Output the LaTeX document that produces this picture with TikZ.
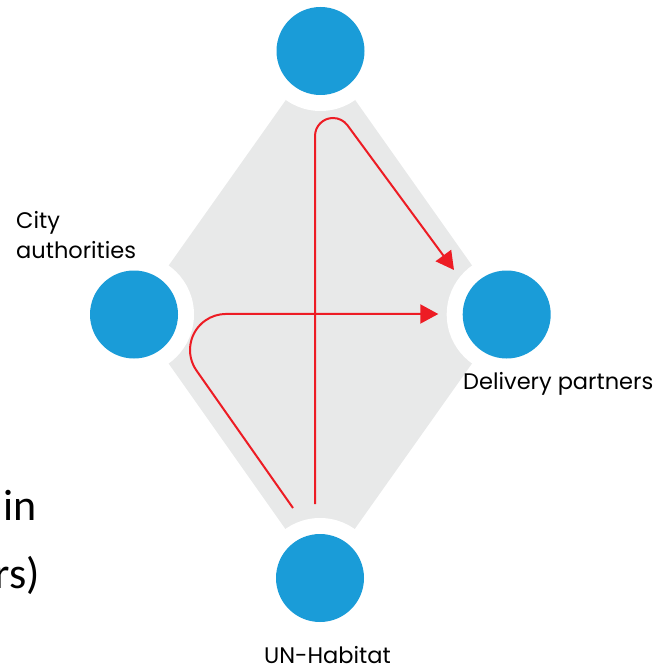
\documentclass[tikz,border=0pt]{standalone}
\usepackage{fontspec}
\setmainfont{Poppins}
\newfontfamily\bigfont{Carlito}
\usetikzlibrary{arrows.meta}
\definecolor{hubblue}{HTML}{1A9CD8}
\definecolor{zonegrey}{HTML}{E8E9E9}
\definecolor{flowred}{HTML}{ED1C24}
\begin{document}
\begin{tikzpicture}[x=1pt,y=-1pt,
  hub/.style={circle,fill=hubblue,minimum size=88pt,inner sep=0pt},
  halo/.style={circle,fill=white,minimum size=120pt,inner sep=0pt},
  flow/.style={draw=flowred,line width=2pt},
  flowarrow/.style={flow,-{Triangle[length=18pt,width=19pt]}},
  lbl/.style={font=\fontsize{22.5}{30}\selectfont,inner sep=0pt,text=black},
  bigtxt/.style={font=\bigfont\fontsize{44}{44}\selectfont,inner sep=0pt,anchor=base east}]
\clip (0,0) rectangle (659,668);
\coordinate (cT) at (320.5,51);
\coordinate (cL) at (134,314.5);
\coordinate (cR) at (506.7,314.5);
\coordinate (cB) at (320,578);
\fill[zonegrey] (cT) -- (cR) -- (cB) -- (cL) -- cycle;
\foreach \c in {cT,cL,cR,cB} \node[halo] at (\c) {};
\node[hub] (top) at (cT) {};
\node[hub] (city) at (cL) {};
\node[hub] (delivery) at (cR) {};
\node[hub] (unh) at (cB) {};
% flows
\coordinate (s1) at (315,504);
\coordinate (e1) at (454,270);
\coordinate (s2) at (293,508);
\coordinate (e2) at (438.3,314);
\draw[flowarrow] (s1) -- (315,136) arc[start angle=180,end angle=323.6,radius=18] -- (e1);
\draw[flowarrow] (s2) -- (196.6,370.7) arc[start angle=144.8,end angle=270,radius=36] -- (e2);
% labels
\node[lbl,anchor=base west] (lcity) at (16,228) {City};
\node[lbl,anchor=base west] (lauth) at (16,258) {authorities};
\node[lbl,anchor=base west] (ldel) at (463,389) {Delivery partners};
\node[lbl,anchor=base west] (lunh) at (264,663) {UN-Habitat};
\node[bigtxt] (lin) at (37,520) {in};
\node[bigtxt] (lrs) at (40,588) {rs)};
\end{tikzpicture}
\end{document}
